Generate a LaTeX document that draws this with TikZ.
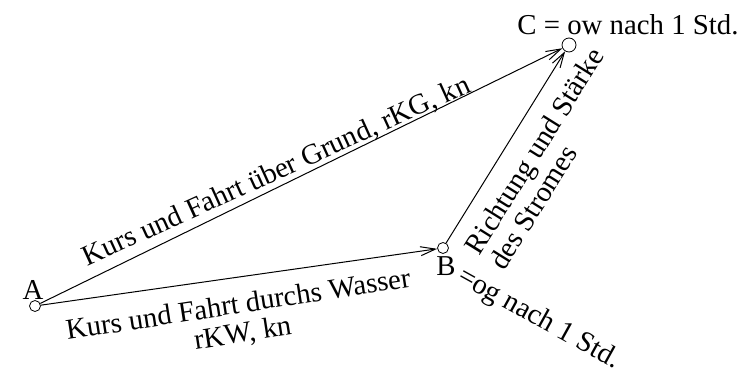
\documentclass[tikz,border=0pt]{standalone}
\usepackage{fontspec}
\setmainfont{Liberation Serif}
\usepackage{tikz}
\usetikzlibrary{arrows.meta, positioning}
\tikzstyle{point} = [circle, 
draw=black, 
fill=white, 
inner sep=0pt, 
minimum size=5.5pt]
\tikzstyle{bigpoint} = [point, minimum size=7pt]
\tikzstyle{txt} = [inner sep=1pt, 
font=\fontsize{14.4}{14.5}\selectfont, 
align=center]
\tikzstyle{arrow} = [line width=0.5pt,-{Straight Barb[length=7.5pt,width=4.5pt]}]

\begin{document}
\begin{tikzpicture}[x=0.5pt,y=-0.5pt]

\useasboundingbox (0,0) rectangle (749,373);

% Nodes
\node (A) [point] at (35,306) {};
\node (B) [point] at (443,248) {};
\node (C) [bigpoint] at (569,45) {};

\node (labA) [txt, above=0pt of A, xshift=-1pt, yshift=-1pt] {A};
\node (labB) [txt, below=0pt of B, xshift=1.5pt] {B};
\node (labC) [txt, above=0pt of C, xshift=29.5pt] {C = ow nach 1 Std.};
\node (og) [txt, anchor=base west, rotate=-29] at ([shift={(11,32)}]B.center) {=og nach 1 Std.};

% base = baseline of the last line
\node (kg) [txt, anchor=base, rotate=24.5] at (280,179) {Kurs und Fahrt über Grund, rKG, kn};
\node (kw) [txt, anchor=base, rotate=8.8] at (244,342) {Kurs und Fahrt durchs Wasser\\rKW, kn};
\node (strom) [txt, align=left, anchor=base west, rotate=58] at (503,274) {Richtung und Stärke\\des Stromes};

% Arrows
\draw [arrow] (A) -- (C);
\draw [arrow] (A) -- (B);
\draw [arrow] (B) -- (C);

\end{tikzpicture}
\end{document}
